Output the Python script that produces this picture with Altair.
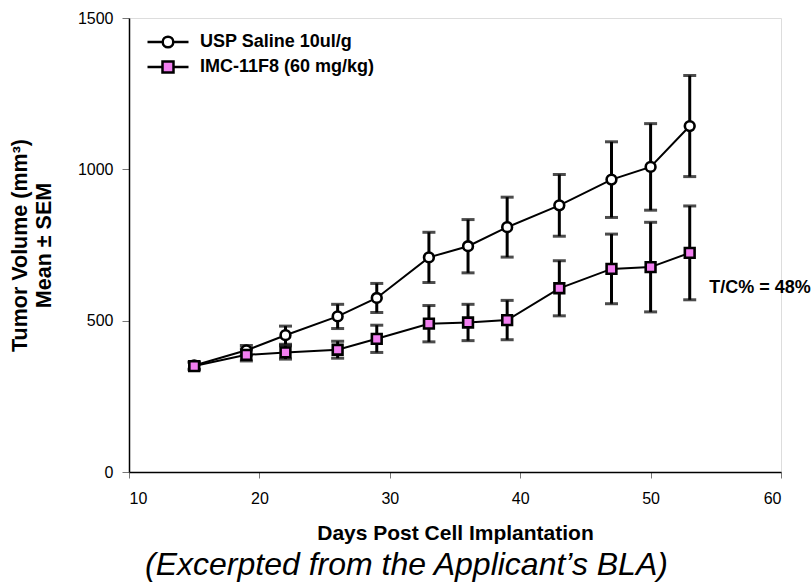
import altair as alt
import pandas as pd

days = [15, 19, 22, 26, 29, 33, 36, 39, 43, 47, 50, 53]
groups = ["USP Saline 10ul/g", "IMC-11F8 (60 mg/kg)"]
saline_mean = [352, 402, 452, 514, 575, 709, 746, 809, 881, 966, 1008, 1143]
saline_sem = [12, 16, 30, 40, 48, 83, 88, 99, 102, 125, 143, 167]
imc_mean = [350, 387, 395, 404, 440, 490, 494, 502, 607, 671, 677, 724]
imc_sem = [12, 20, 22, 28, 45, 60, 60, 65, 91, 115, 148, 155]
x_ticks = [10, 20, 30, 40, 50, 60]
y_ticks = [0, 500, 1000, 1500]
annot_text = ["T/C% = 48%"]
annot_x = [54.5]
annot_y = [609]

PINK = "#F27FF0"
FONT = "Liberation Sans"

rows = []
for g, means, sems in [(groups[0], saline_mean, saline_sem), (groups[1], imc_mean, imc_sem)]:
    for d, m, s in zip(days, means, sems):
        rows.append({"day": d, "mean": m, "lo": m - s, "hi": m + s, "group": g})
df = pd.DataFrame(rows)
annot = pd.DataFrame({"x": annot_x, "y": annot_y, "text": annot_text})

xscale = alt.Scale(domain=[10, 60], nice=False)
yscale = alt.Scale(domain=[0, 1500], nice=False)

xaxis = alt.Axis(values=x_ticks, title="Days Post Cell Implantation", grid=False,
                 domainColor="black", domainWidth=1.5, tickColor="#777777", tickSize=6,
                 labelFont=FONT, labelFontSize=16, labelColor="black", labelPadding=12,
                 titleFont=FONT, titleFontSize=21, titleFontWeight="bold", titleColor="black",
                 titlePadding=16)
yaxis = alt.Axis(values=y_ticks, format="d", title=["Tumor Volume (mm³)", "Mean ± SEM"], grid=False,
                 domainColor="black", domainWidth=1.5, tickColor="#777777", tickSize=7,
                 labelFont=FONT, labelFontSize=16, labelColor="black", labelPadding=9,
                 titleFont=FONT, titleFontSize=21.5, titleFontWeight="bold", titleColor="black",
                 titlePadding=22, titleLineHeight=24)

base = alt.Chart(df)

line = base.mark_line(color="black", strokeWidth=2).encode(
    x=alt.X("day:Q", scale=xscale, axis=xaxis),
    y=alt.Y("mean:Q", scale=yscale, axis=yaxis),
    detail="group:N",
)

err = base.mark_rule(color="black", strokeWidth=3).encode(
    x="day:Q", y="lo:Q", y2="hi:Q"
)
cap_hi = base.mark_tick(color="black", thickness=3, size=13, orient="horizontal").encode(
    x="day:Q", y="hi:Q"
)
cap_lo = base.mark_tick(color="black", thickness=3, size=13, orient="horizontal").encode(
    x="day:Q", y="lo:Q"
)

pts = base.mark_point(filled=True, size=95, stroke="black", strokeWidth=2.6, opacity=1).encode(
    x="day:Q", y="mean:Q",
    shape=alt.Shape("group:N", scale=alt.Scale(domain=groups, range=["circle", "square"]), legend=None),
    fill=alt.Fill("group:N", scale=alt.Scale(domain=groups, range=["white", PINK]), legend=None),
)

# legend-only layers (no rows drawn), each with a line+marker symbol
path_c = "M-4.1,0L-1.06,0M1.06,0L4.1,0M1.06,0A1.06,1.06,0,1,1,-1.06,0A1.06,1.06,0,1,1,1.06,0Z"
path_s = "M-4.1,0L-1.1,0M1.1,0L4.1,0M-1.1,-1.1L1.1,-1.1L1.1,1.1L-1.1,1.1Z"


def legend_layer(group, path, fill, ly):
    lg = alt.Legend(
        title=None, orient="none", legendX=30, legendY=ly, padding=0,
        labelFont=FONT, labelFontSize=18, labelFontWeight="bold", labelColor="black",
        labelOffset=23, labelLimit=0, symbolSize=100, symbolStrokeWidth=2.5,
        symbolStrokeColor="black", symbolFillColor=fill, symbolType=path, symbolOpacity=1,
    )
    return base.transform_filter("false").mark_point(
        filled=True, size=100, shape=path, stroke="black", strokeWidth=2.5, opacity=1
    ).encode(
        x="day:Q", y="mean:Q",
        fill=alt.Fill("group:N", scale=alt.Scale(domain=[group], range=[fill]), legend=lg),
    )


legA = legend_layer(groups[0], path_c, "white", 15)
legB = legend_layer(groups[1], path_s, PINK, 40)

txt = alt.Chart(annot).mark_text(align="left", baseline="middle", font=FONT, fontSize=18,
                                 fontWeight="bold", color="black").encode(
    x="x:Q", y="y:Q", text="text:N"
)

chart = alt.layer(line, err, cap_hi, cap_lo, pts, legA, legB, txt).resolve_scale(
    shape="independent", fill="independent"
).properties(
    width=652, height=454,
    padding={"left": 129, "top": 18, "right": 31, "bottom": 112},
    autosize=alt.AutoSizeParams(type="none"),
    title=alt.TitleParams(text="(Excerpted from the Applicant’s BLA)", orient="bottom",
                          anchor="start", frame="group", dx=16, offset=7,
                          font=FONT, fontSize=32, fontStyle="italic", fontWeight="normal",
                          color="black"),
).configure_view(stroke=None).configure(background="white")

chart.save("out.html", embed_options={"renderer": "svg", "actions": False})
